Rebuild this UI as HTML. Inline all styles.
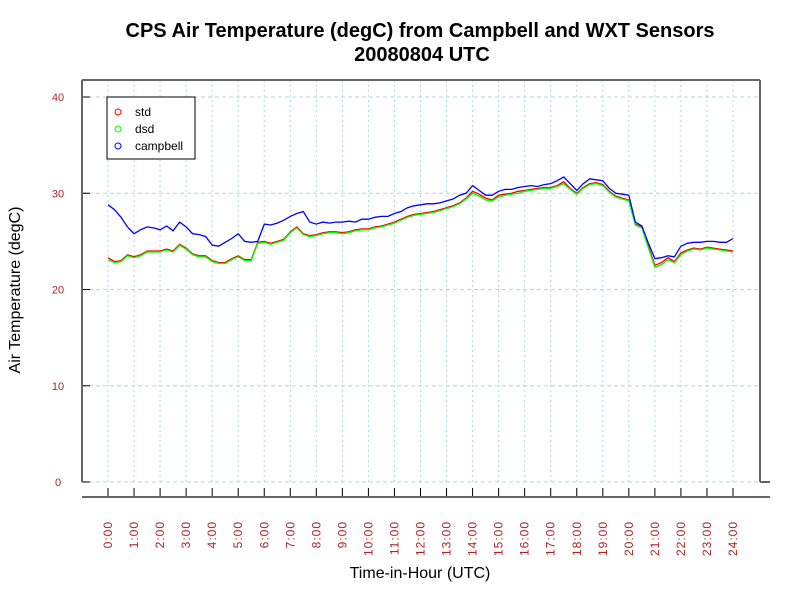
<!DOCTYPE html>
<html><head><meta charset="utf-8"><style>
body{margin:0;background:#fff}
svg{display:block;font-family:"Liberation Sans",sans-serif}
</style></head><body>
<svg id="c" width="800" height="600">
<text x="420" y="37" text-anchor="middle" font-size="20" font-weight="bold">CPS Air Temperature (degC) from Campbell and WXT Sensors</text>
<text x="422" y="61" text-anchor="middle" font-size="20" font-weight="bold">20080804  UTC</text>
<g id="grid"></g>
<g id="axes"></g>
<g id="series"></g>
<text transform="translate(20,290) rotate(-90)" text-anchor="middle" font-size="16">Air Temperature (degC)</text>
<text x="420" y="578" text-anchor="middle" font-size="16">Time-in-Hour (UTC)</text>
<g>
<rect x="107" y="97" width="88" height="62" fill="#fff" stroke="#000"/>
<circle cx="118" cy="112" r="3" fill="none" stroke="#f00"/>
<text x="135" y="116" font-size="12">std</text>
<circle cx="118" cy="129" r="3" fill="none" stroke="#0f0"/>
<text x="135" y="133" font-size="12">dsd</text>
<circle cx="118" cy="146" r="3" fill="none" stroke="#00f"/>
<text x="135" y="150" font-size="12">campbell</text>
</g>
</svg>
<script>
const hours=[0,0.25,0.5,0.75,1,1.25,1.5,1.75,2,2.25,2.5,2.75,3,3.25,3.5,3.75,4,4.25,4.5,4.75,5,5.25,5.5,5.75,6,6.25,6.5,6.75,7,7.25,7.5,7.75,8,8.25,8.5,8.75,9,9.25,9.5,9.75,10,10.25,10.5,10.75,11,11.25,11.5,11.75,12,12.25,12.5,12.75,13,13.25,13.5,13.75,14,14.25,14.5,14.75,15,15.25,15.5,15.75,16,16.25,16.5,16.75,17,17.25,17.5,17.75,18,18.25,18.5,18.75,19,19.25,19.5,19.75,20,20.25,20.5,20.75,21,21.25,21.5,21.75,22,22.25,22.5,22.75,23,23.25,23.5,23.75,24];
const campbell=[28.8,28.3,27.5,26.5,25.8,26.2,26.5,26.4,26.2,26.6,26.1,27.0,26.5,25.8,25.7,25.5,24.6,24.5,24.9,25.3,25.8,25.0,24.9,25.0,26.8,26.7,26.9,27.2,27.6,27.9,28.1,27.0,26.8,27.0,26.9,27.0,27.0,27.1,27.0,27.3,27.3,27.5,27.6,27.6,27.9,28.1,28.5,28.7,28.8,28.9,28.9,29.0,29.2,29.4,29.8,30.0,30.8,30.3,29.8,29.8,30.2,30.4,30.4,30.6,30.7,30.8,30.7,30.9,31.0,31.3,31.7,31.0,30.3,31.0,31.5,31.4,31.3,30.5,30.0,29.9,29.8,27.0,26.6,24.8,23.2,23.3,23.5,23.4,24.5,24.8,24.9,24.9,25.0,25.0,24.9,24.9,25.3];
const std=[23.3,22.9,23.0,23.6,23.4,23.6,24.0,24.0,24.0,24.2,24.0,24.7,24.3,23.7,23.5,23.5,23.0,22.8,22.8,23.2,23.5,23.1,23.1,24.9,25.0,24.8,25.0,25.2,26.0,26.5,25.8,25.6,25.7,25.9,26.0,26.0,25.9,26.0,26.2,26.3,26.3,26.5,26.6,26.8,27.0,27.3,27.6,27.8,27.9,28.0,28.1,28.3,28.5,28.7,29.0,29.5,30.2,29.9,29.5,29.3,29.8,29.9,30.0,30.2,30.3,30.4,30.5,30.6,30.6,30.8,31.2,30.5,30.0,30.6,31.0,31.1,30.9,30.2,29.7,29.5,29.3,26.8,26.5,24.5,22.5,22.8,23.3,22.9,23.8,24.1,24.3,24.2,24.4,24.3,24.2,24.1,24.0];
const dsd=[23.1,22.8,22.9,23.5,23.3,23.5,23.9,23.9,23.9,24.1,23.9,24.6,24.2,23.6,23.4,23.4,22.9,22.7,22.7,23.1,23.4,23.0,23.0,24.8,24.9,24.7,24.9,25.1,25.9,26.4,25.7,25.5,25.6,25.8,25.9,25.9,25.8,25.9,26.1,26.2,26.2,26.4,26.5,26.7,26.9,27.2,27.5,27.7,27.8,27.9,28.0,28.2,28.4,28.6,28.9,29.4,30.0,29.7,29.3,29.2,29.6,29.8,29.9,30.0,30.2,30.3,30.4,30.5,30.5,30.7,31.0,30.4,29.9,30.5,30.9,31.0,30.8,30.1,29.6,29.4,29.2,26.7,26.4,24.3,22.3,22.6,23.1,22.8,23.6,24.0,24.2,24.1,24.3,24.2,24.1,24.0,23.9];
const yTicks=[0,10,20,30,40];
const xTickHours=[0,1,2,3,4,5,6,7,8,9,10,11,12,13,14,15,16,17,18,19,20,21,22,23,24];
const NS="http://www.w3.org/2000/svg";
const L=82,R=760,T=80,B=482;
const xs=h=>108+h*(733-108)/24;
const ys=v=>482-v*(482-97)/40;
function mk(p,tag,attrs){const e=document.createElementNS(NS,tag);for(const k in attrs)e.setAttribute(k,attrs[k]);p.appendChild(e);return e;}
const grid=document.getElementById('grid'),axes=document.getElementById('axes'),ser=document.getElementById('series');
yTicks.forEach(v=>{
 const g=mk(grid,'line',{x1:L,x2:R,y1:ys(v),y2:ys(v),stroke:'#add8e6','stroke-dasharray':'4,3'});
 
 
 const tk=mk(axes,'line',{x1:L,x2:L+8,y1:ys(v),y2:ys(v),stroke:'#000'});
 
 
 const t=mk(axes,'text',{x:58,y:ys(v)+4,'text-anchor':'middle','font-size':11,fill:'#b22222'});
 t.textContent=v;
 
 
});
xTickHours.forEach(h=>{
 const g=mk(grid,'line',{x1:xs(h),x2:xs(h),y1:T,y2:B,stroke:'#add8e6','stroke-dasharray':'2,3'});
 
 
 const tk=mk(axes,'line',{x1:xs(h),x2:xs(h),y1:488,y2:497,stroke:'#000'});
 
 
 const t=mk(axes,'text',{transform:`translate(${xs(h)+4},521) rotate(-90)`,'text-anchor':'end','font-size':12,fill:'#b22222','letter-spacing':'1'});
 t.textContent=h+':00';
 
 
});
[[L,T,L,B],[L,T,R,T],[R,T,R,B],[R,B,770,B],[L,497,770,497]].forEach(a=>{
 const ln=mk(axes,'line',{x1:a[0],y1:a[1],x2:a[2],y2:a[3],stroke:'#666','stroke-width':2});
 
 
});
[[std,'#f00','std-line'],[dsd,'#0f0','dsd-line'],[campbell,'#00f','campbell-line']].forEach(s=>{
 const d=s[0].map((v,i)=>(i?'L':'M')+xs(hours[i]).toFixed(1)+','+ys(v).toFixed(1)).join('');
 const p=mk(ser,'path',{d:d,fill:'none',stroke:s[1],'stroke-width':1.3});
 
 
});
</script>
</body></html>
